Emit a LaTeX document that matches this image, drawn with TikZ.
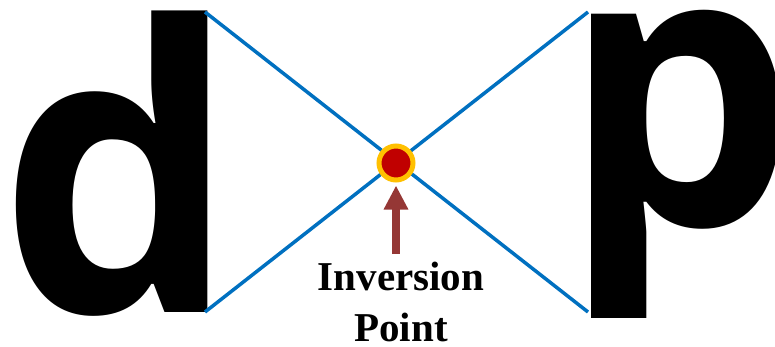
\documentclass[tikz,border=0pt]{standalone}
\usepackage{fontspec}
\setmainfont{Liberation Serif}
\newfontfamily\letterfont{Open Sans}
\usetikzlibrary{arrows.meta}
\definecolor{xblue}{HTML}{0070C0}
\definecolor{xred}{HTML}{C00000}
\definecolor{xgold}{HTML}{FFC000}
\definecolor{xbrown}{HTML}{953735}
\tikzset{
  bigletter/.style={inner sep=0pt, outer sep=0pt, font=\letterfont\bfseries\fontsize{395}{395}\selectfont},
  xline/.style={draw=xblue, line width=3.5pt},
  invdot/.style={circle, fill=xred, draw=xgold, line width=5pt, minimum size=34pt, inner sep=0pt},
  uparrow/.style={draw=xbrown, line width=8pt, -{Triangle[width=23pt,length=24pt]}},
  lbl/.style={align=center, font=\bfseries\fontsize{41}{51}\selectfont, inner sep=0pt}
}
\begin{document}
\begin{tikzpicture}[x=1pt,y=-1pt]
\useasboundingbox (0,0) rectangle (775,346);
\clip (0,0) rectangle (775,346);
\node[bigletter, anchor=base east] (d) at (237,312) {\scalebox{0.95}[1.005]{d}};
\node[bigletter, anchor=base west] (p) at (562,225) {\scalebox{0.94}[0.98]{p}};
\coordinate (dtop) at (205,12);
\coordinate (dbot) at (205,312);
\coordinate (ptop) at (588,12);
\coordinate (pbot) at (588,312);
\draw[xline] (dtop) -- (pbot);
\draw[xline] (dbot) -- (ptop);
\node[invdot] (inv) at (396,163) {};
\coordinate (foot) at (396,254);
\draw[uparrow] (foot) -- ([yshift=-3pt]inv.south);
\node[lbl, anchor=base] (label) at (401,341) {Inversion\\\raisebox{0pt}[\height][0pt]{Point}};
\end{tikzpicture}
\end{document}
